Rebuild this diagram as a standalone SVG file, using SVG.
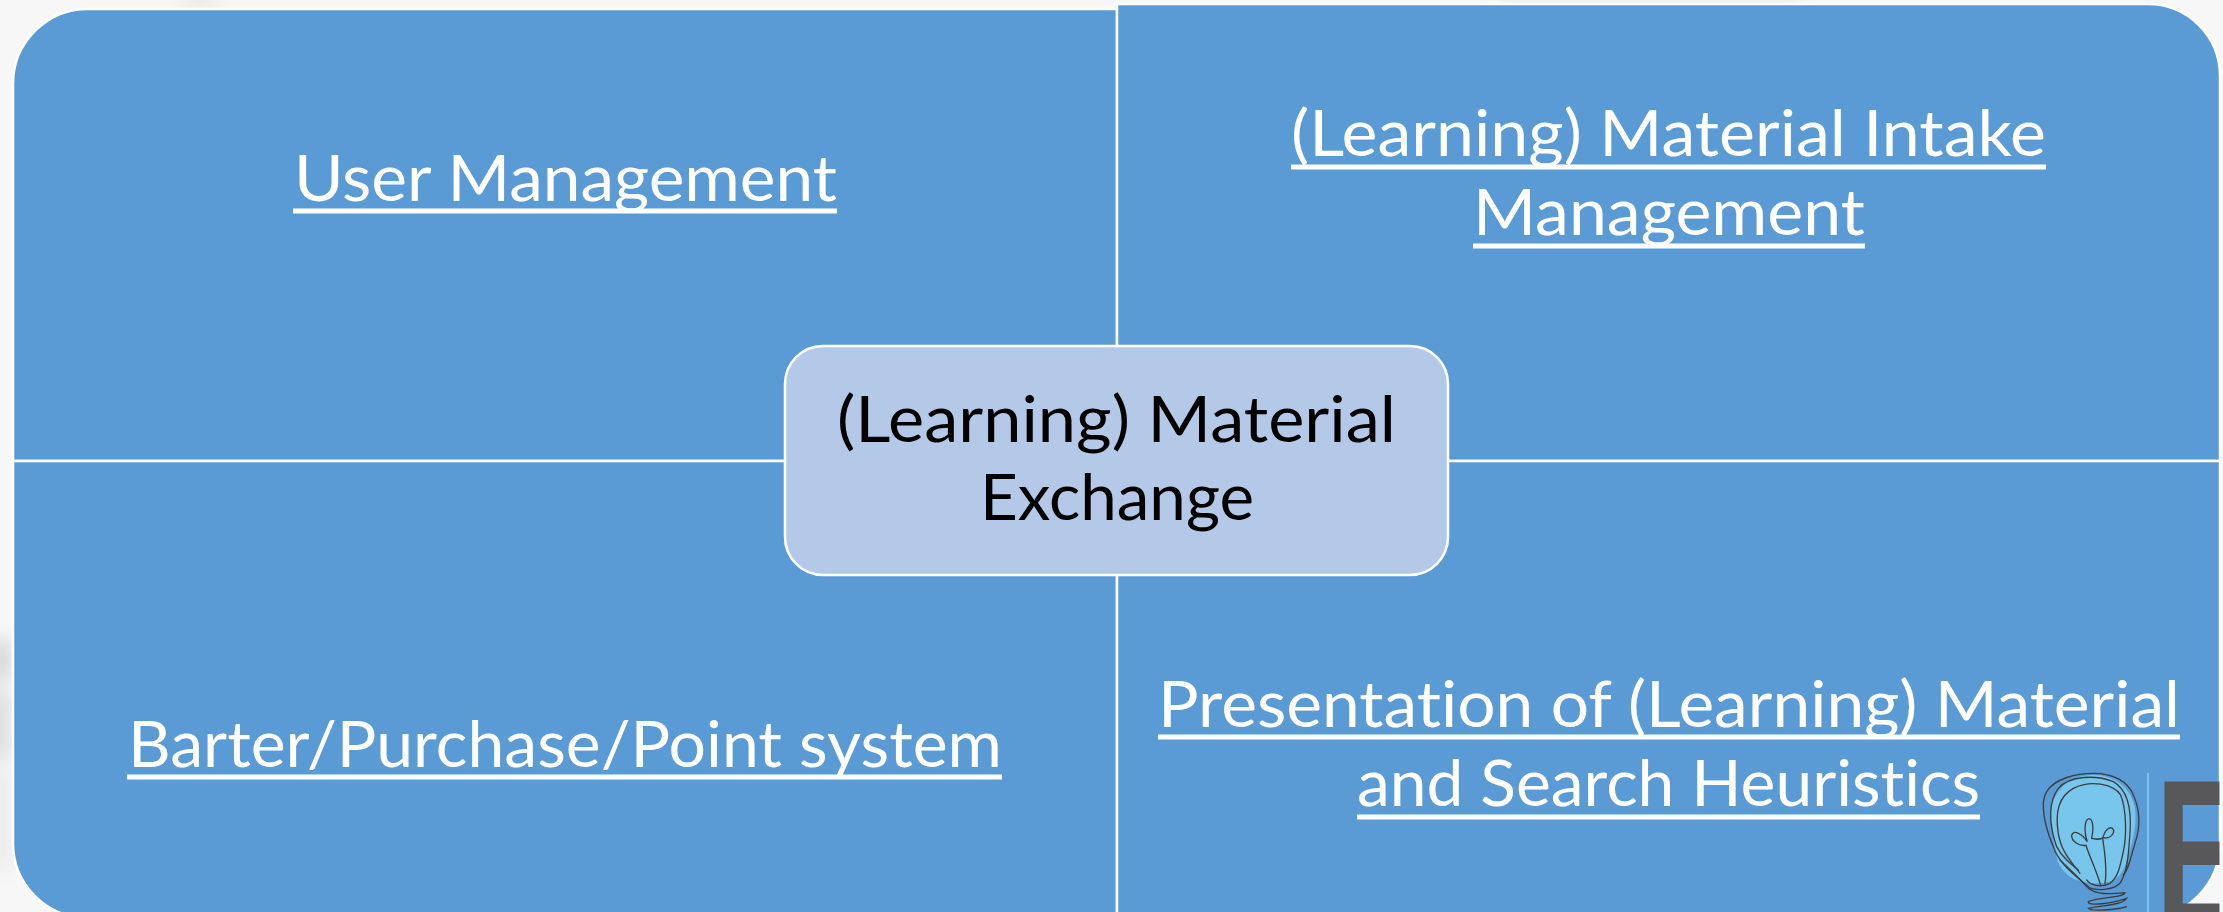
<svg xmlns="http://www.w3.org/2000/svg" width="2223" height="912" viewBox="0 0 2223 912">
<style>
.q{fill:#5b9bd5;stroke:#fff;stroke-width:2.5}
.t{font-family:"Lato","Liberation Sans",sans-serif;font-size:64px;fill:#fff;font-variant-ligatures:none}
.u{stroke:#fff;stroke-width:5;fill:none}
.s{fill:none;stroke:#3d3d3f;stroke-width:4;stroke-linecap:round}
</style>
<defs>
<filter id="b" x="-50%" y="-50%" width="200%" height="200%"><feGaussianBlur stdDeviation="9"/></filter>
<clipPath id="ec"><rect x="2140" y="760" width="79.5" height="152"/></clipPath>
</defs>
<rect id="background" width="2223" height="912" fill="#f7f7f7"/>
<g id="backdrop-shading" filter="url(#b)">
<rect x="-10" y="640" width="20" height="40" fill="#d2d2d2"/>
<rect x="-10" y="690" width="20" height="70" fill="#dcdcdc"/>
<rect x="-10" y="770" width="22" height="100" fill="#ebebeb"/>
<rect x="185" y="-6" width="30" height="10" fill="#dcdcdc"/>
<rect x="1500" y="-6" width="300" height="8" fill="#e2e2e2"/>
</g>
<g id="user-management">
<path class="q" d="M13 461V84A75 75 0 0 1 88 9H1117V461Z"/>
<text class="t" x="294" y="201" textLength="543" lengthAdjust="spacingAndGlyphs">User Management</text>
<line class="u" x1="293" y1="211" x2="837" y2="211"/>
</g>
<g id="material-intake">
<path class="q" d="M1117 461V4H2148A72 72 0 0 1 2220 76V461Z"/>
<text class="t" x="1291" y="156" textLength="755" lengthAdjust="spacingAndGlyphs">(Learning) Material Intake</text>
<line class="u" x1="1291" y1="167" x2="2046" y2="167"/>
<text class="t" x="1473" y="235" textLength="392" lengthAdjust="spacingAndGlyphs">Management</text>
<line class="u" x1="1473" y1="246" x2="1865" y2="246"/>
</g>
<g id="barter-system">
<path class="q" d="M13 461V843A75 75 0 0 0 88 918H1117V461Z"/>
<text class="t" x="128" y="767" textLength="874" lengthAdjust="spacingAndGlyphs">Barter/Purchase/Point system</text>
<line class="u" x1="127" y1="777" x2="1002" y2="777"/>
</g>
<g id="presentation-search">
<path class="q" d="M1117 461V918H2145A75 75 0 0 0 2220 843V461Z"/>
<text class="t" x="1158" y="727" textLength="1022" lengthAdjust="spacingAndGlyphs">Presentation of (Learning) Material</text>
<line class="u" x1="1158" y1="737" x2="2180" y2="737"/>
<text class="t" x="1357" y="806" textLength="623" lengthAdjust="spacingAndGlyphs">and Search Heuristics</text>
<line class="u" x1="1357" y1="817" x2="1980" y2="817"/>
</g>
<g id="center-node">
<rect x="785" y="346" width="663" height="229" rx="38" fill="#b4c9e7" stroke="#fff" stroke-width="2.5"/>
<text class="t" style="fill:#000" x="837" y="442" textLength="559" lengthAdjust="spacingAndGlyphs">(Learning) Material</text>
<text class="t" style="fill:#000" x="980" y="520" textLength="274" lengthAdjust="spacingAndGlyphs">Exchange</text>
</g>
<g id="logo">
<line x1="2148" y1="773" x2="2148" y2="912" stroke="#7ac6ea" stroke-width="2"/>
<g transform="translate(1950 720) scale(.3333)">
<path fill="#78c6ec" d="M305 260C320 195 375 165 430 165C495 165 545 205 555 265C562 320 545 375 530 420C520 465 495 490 440 490C385 490 340 470 322 420C315 375 298 320 305 260Z"/>
<path class="s" d="M415 500C380 470 325 430 310 380C285 320 268 250 290 215C315 175 380 160 430 160C490 160 535 185 550 225C570 270 572 320 555 370C540 420 535 450 520 465"/>
<path class="s" d="M330 420C355 445 385 470 410 500C440 515 490 510 510 490C535 450 535 400 540 340C545 270 535 210 490 185C440 165 360 165 325 205C295 245 295 310 320 380C335 410 360 430 385 450"/>
<path class="s" d="M390 460C365 425 335 400 325 340C315 280 325 230 370 205C420 180 490 190 512 225C530 270 530 350 520 395C510 440 505 470 480 490C450 505 420 495 410 480"/>
<path class="s" d="M452 497C440 450 420 415 408 376C385 380 364 362 365 346C370 328 395 340 412 365C400 330 405 298 417 296C432 298 430 335 425 355C440 358 450 360 460 353C480 358 495 340 490 328C480 315 465 330 458 355C465 400 472 450 465 490"/>
<path class="s" d="M415 505C440 525 480 522 525 518C520 535 450 530 415 545C410 560 490 550 530 535C520 555 460 555 415 565C420 575 500 570 530 560"/>
</g>
<g clip-path="url(#ec)"><text id="logo-letter" transform="translate(2156 927) scale(.6 1)" font-family="'Liberation Sans',sans-serif" font-weight="700" font-size="211" fill="#58585a">E</text></g>
</g>
</svg>
